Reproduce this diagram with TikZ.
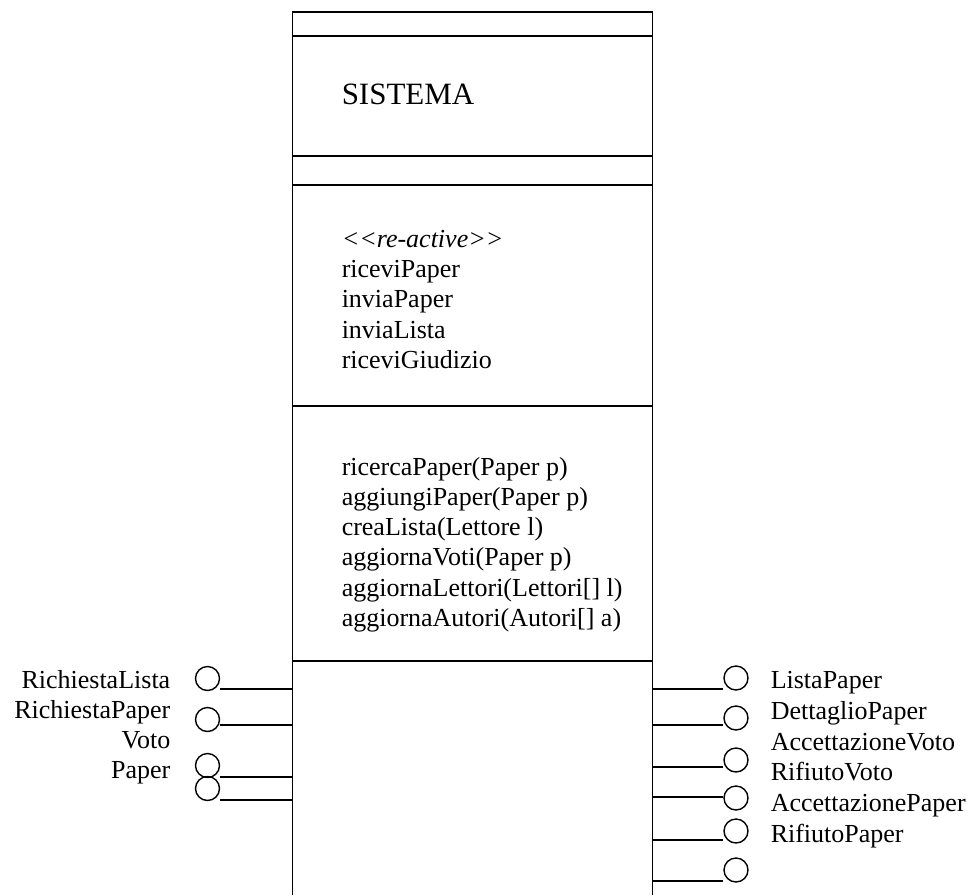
\documentclass[tikz,border=0pt]{standalone}
\usepackage{fontspec}
\setmainfont{Liberation Serif}
\begin{document}
\begin{tikzpicture}[x=1pt,y=-1pt,line width=1.5pt,
  lbl/.style={font=\fontsize{26}{30}\selectfont,inner sep=0pt},
  ttl/.style={font=\fontsize{31}{36}\selectfont,inner sep=0pt},
  port/.style={circle,draw,minimum size=24pt,inner sep=0pt,line width=1.4pt},
  wire/.style={line width=1.5pt}]
\useasboundingbox (0,0) rectangle (975,895);
% box
\coordinate (TL) at (292.5,12);
\coordinate (TR) at (652.5,12);
\coordinate (BL) at (292.5,895);
\coordinate (BR) at (652.5,895);
\draw (BL) -- (TL) -- (TR) -- (BR);
\foreach \y in {36,156,185,406,661} {\draw (292.5,\y) -- (652.5,\y);}
% title
\node[ttl,anchor=base west] (title) at (341,104) {SISTEMA};
% reactive compartment
\node[lbl,anchor=base west] (r0) at (341,247) {\textit{<{}<re-active>{}>}};
\node[lbl,anchor=base west] (r1) at (341,277) {riceviPaper};
\node[lbl,anchor=base west] (r2) at (341,307) {inviaPaper};
\node[lbl,anchor=base west] (r3) at (341,338) {inviaLista};
\node[lbl,anchor=base west] (r4) at (341,368) {riceviGiudizio};
% operations
\node[lbl,anchor=base west] (o1) at (341,475) {ricercaPaper(Paper p)};
\node[lbl,anchor=base west] (o2) at (341,505) {aggiungiPaper(Paper p)};
\node[lbl,anchor=base west] (o3) at (341,535) {creaLista(Lettore l)};
\node[lbl,anchor=base west] (o4) at (341,565) {aggiornaVoti(Paper p)};
\node[lbl,anchor=base west] (o5) at (341,596) {aggiornaLettori(Lettori[] l)};
\node[lbl,anchor=base west] (o6) at (341,626) {aggiornaAutori(Autori[] a)};
% left ports
\node[port] (pl1) at (207.5,678.5) {};
\node[port] (pl2) at (207.5,719.5) {};
\node[port] (pl3) at (207.5,765.5) {};
\node[port] (pl4) at (207.5,788.5) {};
\coordinate (al1) at (292.5,689);
\coordinate (al2) at (292.5,725);
\coordinate (al3) at (292.5,777);
\coordinate (al4) at (292.5,800);
\draw[wire] (al1) -- (al1 -| pl1.east);
\draw[wire] (al2) -- (al2 -| pl2.east);
\draw[wire] (al3) -- (al3 -| pl3.east);
\draw[wire] (al4) -- (al4 -| pl4.east);
\node[lbl,anchor=base east] (tl1) at (171,688) {RichiestaLista};
\node[lbl,anchor=base east] (tl2) at (171,718) {RichiestaPaper};
\node[lbl,anchor=base east] (tl3) at (171,748) {Voto};
\node[lbl,anchor=base east] (tl4) at (171,778) {Paper};
% right ports
\node[port] (pr1) at (736,678) {};
\node[port] (pr2) at (736,718) {};
\node[port] (pr3) at (736,760) {};
\node[port] (pr4) at (736,798) {};
\node[port] (pr5) at (736,831) {};
\node[port] (pr6) at (736,870) {};
\coordinate (ar1) at (652.5,689);
\coordinate (ar2) at (652.5,725);
\coordinate (ar3) at (652.5,767);
\coordinate (ar4) at (652.5,797);
\coordinate (ar5) at (652.5,840);
\coordinate (ar6) at (652.5,881);
\draw[wire] (ar1) -- (ar1 -| pr1.west);
\draw[wire] (ar2) -- (ar2 -| pr2.west);
\draw[wire] (ar3) -- (ar3 -| pr3.west);
\draw[wire] (ar4) -- (ar4 -| pr4.west);
\draw[wire] (ar5) -- (ar5 -| pr5.west);
\draw[wire] (ar6) -- (ar6 -| pr6.west);
\node[lbl,anchor=base west] (tr1) at (770,688) {ListaPaper};
\node[lbl,anchor=base west] (tr2) at (770,719) {DettaglioPaper};
\node[lbl,anchor=base west] (tr3) at (770,750) {AccettazioneVoto};
\node[lbl,anchor=base west] (tr4) at (770,780) {RifiutoVoto};
\node[lbl,anchor=base west] (tr5) at (770,811) {AccettazionePaper};
\node[lbl,anchor=base west] (tr6) at (770,842) {RifiutoPaper};
\end{tikzpicture}
\end{document}
